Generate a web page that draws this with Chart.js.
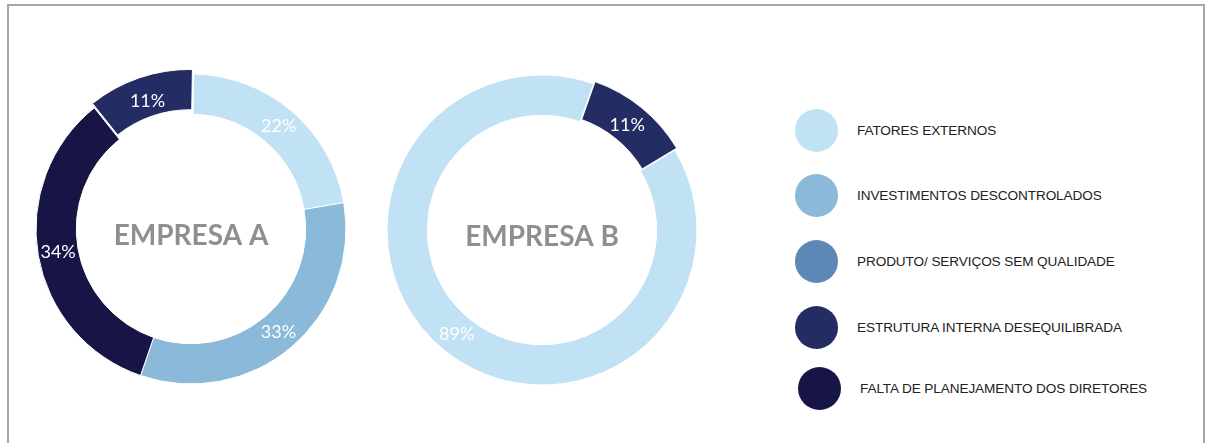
<!DOCTYPE html>
<html>
<head>
<meta charset="utf-8">
<script src="https://cdn.jsdelivr.net/npm/chart.js@4"></script>
<style>
  body { margin: 0; width: 1208px; height: 443px; background: #fff; position: relative; overflow: hidden; font-family: "Liberation Sans", Arial, sans-serif; }
  .frame { position: absolute; left: 7px; top: 4px; width: 1194px; height: 460px; border: 2px solid #a6a6a6; }
  #chartA { position: absolute; left: 21px; top: 59px; }
  #chartB { position: absolute; left: 372px; top: 60px; }
  #legend { position: absolute; left: 795px; top: 108px; }
  .item { position: absolute; left: 0; height: 44px; display: flex; align-items: center; white-space: nowrap; }
  .dot { width: 43px; height: 43px; border-radius: 50%; }
  .txt { position: absolute; left: 62px; font-size: 13.6px; color: #222; letter-spacing: -0.1px; }
</style>
</head>
<body>
<div class="frame"></div>
<canvas id="chartA" width="340" height="340"></canvas>
<canvas id="chartB" width="340" height="340"></canvas>
<div id="legend"></div>
<script>
const categories = [
  "FATORES EXTERNOS",
  "INVESTIMENTOS DESCONTROLADOS",
  "PRODUTO/ SERVIÇOS SEM QUALIDADE",
  "ESTRUTURA INTERNA DESEQUILIBRADA",
  "FALTA DE PLANEJAMENTO DOS DIRETORES"
];
const colors = ["#c1e1f4", "#8ab9d9", "#5d88b5", "#232c63", "#171546"];
const empresaA = [22, 33, 0, 11, 34];
const empresaB = [89, 0, 0, 11, 0];
// clockwise order the slices appear in the picture
const sliceOrder = [0, 1, 2, 4, 3];

// legend
const legend = document.getElementById("legend");
const legendY = [0, 65, 131, 197, 258];
const legendX = [0, 0, 0, 0, 3];
categories.forEach((c, i) => {
  const el = document.createElement("div");
  el.className = "item";
  el.style.top = legendY[i] + "px";
  el.style.left = legendX[i] + "px";
  el.innerHTML = '<div class="dot" style="background:' + colors[i] + '"></div><span class="txt">' + c + '</span>';
  legend.appendChild(el);
});

const labelPlugin = {
  id: "pctLabels",
  afterDatasetsDraw(chart) {
    const ctx = chart.ctx;
    const ds = chart.data.datasets[0];
    const meta = chart.getDatasetMeta(0);
    ctx.save();
    ctx.fillStyle = "#fff";
    ctx.font = "18px Lato";
    ctx.textAlign = "center";
    ctx.textBaseline = "middle";
    meta.data.forEach((arc, i) => {
      const v = ds.data[i];
      if (!v) return;
      const p = arc.getProps(["x", "y", "startAngle", "endAngle", "innerRadius", "outerRadius"], true);
      const a = (p.startAngle + p.endAngle) / 2;
      const r = (p.innerRadius + p.outerRadius) / 2;
      ctx.fillText(v + "%", p.x + Math.cos(a) * r, p.y + Math.sin(a) * r);
    });
    ctx.restore();
  }
};

const centerPlugin = {
  id: "centerText",
  afterDraw(chart) {
    const ctx = chart.ctx;
    const a = chart.chartArea;
    ctx.save();
    ctx.fillStyle = "#8f8f8f";
    ctx.font = "bold 28px Lato";
    ctx.textAlign = "center";
    ctx.textBaseline = "alphabetic";
    ctx.fillText(chart.options.plugins.centerText.text, (a.left + a.right) / 2, (a.top + a.bottom) / 2 + 16);
    ctx.restore();
  }
};

function makeChart(id, values, title, rotation, offsets) {
  return new Chart(document.getElementById(id), {
    type: "doughnut",
    data: {
      labels: sliceOrder.map(i => categories[i]),
      datasets: [{
        data: sliceOrder.map(i => values[i]),
        backgroundColor: sliceOrder.map(i => colors[i]),
        borderColor: "#fff",
        borderWidth: 1,
        offset: offsets
      }]
    },
    options: {
      responsive: false,
      animation: false,
      radius: 155,
      cutout: "74%",
      rotation: rotation,
      layout: { padding: 0 },
      plugins: {
        legend: { display: false },
        tooltip: { enabled: false },
        centerText: { text: title }
      }
    },
    plugins: [labelPlugin, centerPlugin]
  });
}

makeChart("chartA", empresaA, "EMPRESA A", 1, [0, 0, 0, 0, 14]);
makeChart("chartB", empresaB, "EMPRESA B", 59, [0, 0, 0, 0, 8]);
</script>
</body>
</html>
